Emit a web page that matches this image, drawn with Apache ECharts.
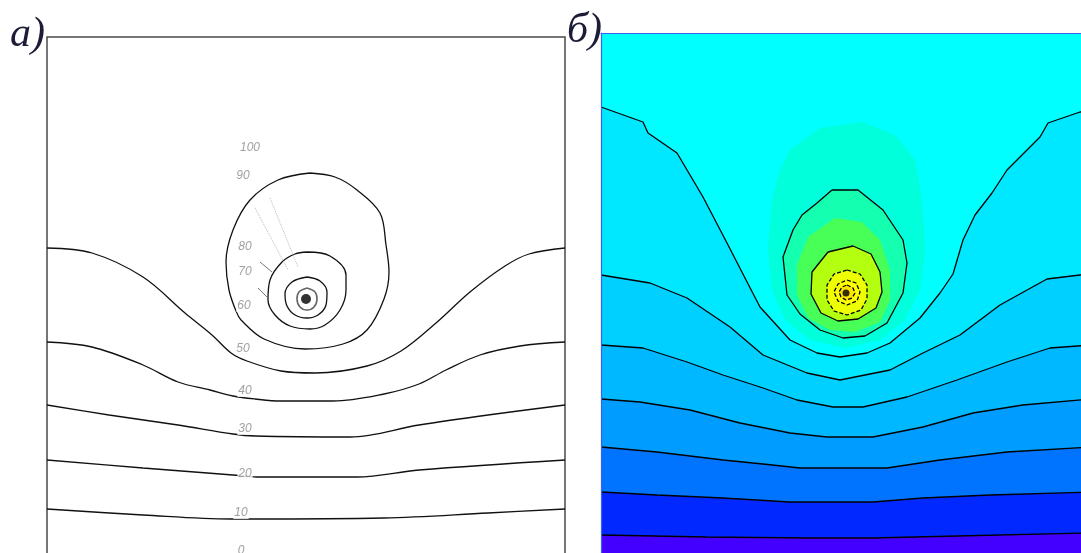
<!DOCTYPE html>
<html><head><meta charset="utf-8">
<script src="https://cdn.jsdelivr.net/npm/echarts/dist/echarts.min.js"></script>
<style>html,body{margin:0;padding:0;background:#fff}#c{width:1081px;height:553px}</style>
</head><body><div id="c"></div>
<script>
// ===== Panel а): isolines (x = lateral offset from the source, d = depth), reference units
const aLevels   = ['0','10','20','30','40','50','60','70','80','90','100'];
const aLabelPos = [[-65,514],[-65,476],[-61,437],[-61,392],[-61,354],[-63,312],[-62,269],[-61,235],[-61,210],[-63,139],[-56,111]];
const aIso10 = [[-259,472],[-163,478],[-75,482],[-56,482],[78,481],[182,476],[259,472]];
const aIso20 = [[-259,423],[-163,431],[-73,438],[-49,440],[51,440],[113,433],[259,423]];
const aIso30 = [[-259,368],[-197,378],[-128,388],[-73,397],[-51,399],[44,400],[113,388],[182,378],[259,368]];
const aIso40 = [[-259,305],[-214,310],[-163,328],[-128,345],[-96,353],[-73,359],[-51,362],[-25,364],[27,364],[78,357],[113,347],[140,333],[174,318],[214,309],[259,305]];
const aIso50 = [[-259,211],[-214,216],[-163,240],[-121,276],[-94,298],[-75,316],[-59,324],[-25,334],[9,336],[61,329],[95,314],[130,286],[164,255],[199,229],[223,217],[259,211]];
const aIso60 = [[4,136],[29,140],[51,153],[74,176],[80,208],[83,235],[78,262],[61,293],[37,307],[-1,312],[-42,302],[-65,283],[-70,274],[-77,253],[-80,225],[-73,193],[-56,163],[-28,143],[4,136]];
const aIso70 = [[1,215],[24,219],[40,238],[40,253],[34,273],[19,288],[4,292],[-16,289],[-31,278],[-38,263],[-36,243],[-24,225],[-11,217],[1,215]];
const aIso80 = [[1,240],[14,244],[21,255],[20,268],[12,278],[1,281],[-11,278],[-19,269],[-21,257],[-14,245],[1,240]];
const aIso90 = [[1,251],[9,255],[11,262],[8,270],[1,273],[-6,270],[-9,262],[-7,255],[1,251]];
const aSource = [0,262];
const aLeaders = [[[-51,171],[-18,233]],[[-36,161],[-8,230]]];
const aTicks   = [[[-46,225],[-34,235]],[[-48,251],[-38,261]]];

// ===== Panel б): filled isolines
const bIso1 = [[-245,74],[-203,89],[-198,100],[-169,120],[-143,164],[-119,210],[-101,245],[-86,274],[-56,307],[-29,320],[-6,324],[21,320],[44,310],[74,285],[94,260],[107,241],[117,207],[129,182],[146,160],[161,137],[194,104],[202,90],[234,79],[245,77]];
const bIso2 = [[-245,242],[-196,250],[-159,265],[-116,294],[-83,322],[-39,340],[-6,347],[44,337],[77,320],[114,302],[154,272],[201,246],[234,242],[245,241]];
const bIso3 = [[-245,312],[-203,315],[-159,329],[-123,342],[-83,355],[-49,367],[-13,374],[17,374],[61,364],[111,347],[161,329],[204,315],[245,312]];
const bIso4 = [[-245,366],[-206,369],[-156,377],[-106,390],[-56,400],[-19,404],[27,404],[77,394],[127,380],[177,372],[245,366]];
const bIso5 = [[-245,414],[-189,419],[-123,427],[-83,431],[-46,435],[41,435],[94,427],[161,419],[245,414]];
const bIso6 = [[-245,459],[-189,462],[-123,465],[-56,469],[27,469],[77,465],[144,462],[245,459]];
const bIso7 = [[-245,502],[-139,504],[-39,505],[27,505],[111,503],[245,500]];
const bHalo = [[-56,117],[-26,95],[16,89],[49,102],[69,127],[76,167],[79,217],[74,257],[59,287],[34,307],[0,315],[-36,307],[-61,287],[-74,257],[-78,217],[-74,167],[-66,137]];
const bRing1 = [[-14,157],[12,157],[37,177],[57,207],[61,230],[57,260],[41,290],[19,303],[-3,305],[-26,297],[-46,281],[-59,262],[-63,224],[-53,197],[-44,182],[-29,170],[-14,157]];
const bGreen = [[-11,185],[16,189],[34,207],[44,237],[44,267],[34,289],[9,299],[-16,297],[-38,285],[-49,262],[-49,232],[-38,204]];
const bRing2 = [[-18,219],[7,213],[25,221],[34,239],[36,259],[30,275],[12,286],[-8,288],[-25,280],[-35,261],[-34,239],[-18,219]];
const bRing3 = [[1,237],[14,241],[21,252],[21,266],[15,277],[1,282],[-12,278],[-19,267],[-19,252],[-12,241],[1,237]];
const bRing4 = [[1,247],[10,250],[14,259],[11,268],[1,272],[-8,268],[-12,259],[-8,251],[1,247]];
const bRing5 = [[1,252],[7,255],[9,260],[6,265],[0,267],[-5,264],[-7,259],[-4,254],[1,252]];
const bSource = [0,260];

// ---- axis extents
const A_X = 259, A_D = 518;
const B_X = 245, B_D = 522;

// ---- styles
const bandColors = ['#00e8ff','#00d0ff','#00b8ff','#009cff','#0074ff','#0028ff','#4400ff'];
const blobColors = {halo:'#00ffda', ring1:'#14ffb0', green:'#48ff58', ring2:'#b4ff10', ring3:'#eeff00', ring4:'#ffff00', ring5:'#ffe400'};

function below(line){ return line.concat([[B_X, B_D],[-B_X, B_D]]); }
const bShapes = [
  {pts: bHalo, fill: blobColors.halo},
  {pts: below(bIso1), fill: bandColors[0]},
  {pts: below(bIso2), fill: bandColors[1]},
  {pts: below(bIso3), fill: bandColors[2]},
  {pts: below(bIso4), fill: bandColors[3]},
  {pts: below(bIso5), fill: bandColors[4]},
  {pts: below(bIso6), fill: bandColors[5]},
  {pts: below(bIso7), fill: bandColors[6]},
  {pts: bRing1, fill: blobColors.ring1},
  {pts: bGreen, fill: blobColors.green},
  {pts: bRing2, fill: blobColors.ring2},
  {pts: bRing3, fill: blobColors.ring3},
  {pts: bRing4, fill: blobColors.ring4},
  {pts: bRing5, fill: blobColors.ring5}
];

const series = [];
function line(g, pts, style, smooth){
  series.push({type:'line', xAxisIndex:g, yAxisIndex:g, data:pts, symbol:'none', showSymbol:false,
    smooth: smooth||false, lineStyle: style, z:3, silent:true, animation:false});
}
// panel а
const blk = {color:'#111', width:1.3};
[aIso10,aIso20,aIso30,aIso40,aIso50,aIso60,aIso70,aIso80].forEach(p => line(0,p,blk,0.35));
line(0, aIso90, {color:'#666', width:1.6}, 0.35);
aLeaders.forEach(p => line(0,p,{color:'#bbb', width:1, type:'dotted'}));
aTicks.forEach(p => line(0,p,{color:'#777', width:1}));
series.push({type:'scatter', xAxisIndex:0, yAxisIndex:0, data:[aSource], symbol:'circle', symbolSize:10,
  itemStyle:{color:'#000'}, z:4, silent:true, animation:false});
series.push({type:'scatter', xAxisIndex:0, yAxisIndex:0, symbolSize:0, z:6, silent:true, animation:false,
  data: aLabelPos.map((p,i)=>[p[0],p[1],aLevels[i]]),
  label:{show:true, position:'inside', formatter:p=>p.data[2], color:'#8a8a8a', fontStyle:'italic',
    fontSize:12, fontFamily:'"Liberation Sans Narrow","Liberation Sans",sans-serif', backgroundColor:'#fff', padding:[0,1]}});
// panel б fills
series.push({type:'custom', xAxisIndex:1, yAxisIndex:1, data: bShapes.map(()=>[0,0]), z:1, silent:true, animation:false,
  renderItem:(params, api)=>{ const s=bShapes[params.dataIndex];
    return {type:'polygon', shape:{points:s.pts.map(p=>api.coord(p))}, style:{fill:s.fill}}; }});
const bl = {color:'#000', width:1.3};
[bIso1,bIso2,bIso3,bIso4,bIso5,bIso6,bIso7,bRing1,bRing2].forEach(p => line(1,p,bl,false));
[bRing3,bRing4,bRing5].forEach(p => line(1,p,{color:'#000', width:1.3, type:[4,2]},false));
series.push({type:'scatter', xAxisIndex:1, yAxisIndex:1, data:[bSource], symbol:'circle', symbolSize:7,
  itemStyle:{color:'#000'}, z:4, silent:true, animation:false});

const hidden = {show:false};
const chart = echarts.init(document.getElementById('c'), null, {renderer:'canvas'});
chart.setOption({
  animation:false,
  backgroundColor:'#fff',
  grid:[
    {left:47, top:37, width:518, height:518, outerBoundsMode:'none', containLabel:false, show:true, borderColor:'#4a4a4a', borderWidth:1.5, backgroundColor:'#fff'},
    {left:601, top:33, width:490, height:522, outerBoundsMode:'none', containLabel:false, show:true, borderWidth:0, backgroundColor:'#00ffff'}
  ],
  xAxis:[
    {gridIndex:0, type:'value', min:-A_X, max:A_X, show:false},
    {gridIndex:1, type:'value', min:-B_X, max:B_X, position:'top', z:10,
      axisLine:{show:true, onZero:false, lineStyle:{color:'#3b62e6', width:1.2}}, axisTick:hidden, axisLabel:hidden, splitLine:hidden}
  ],
  yAxis:[
    {gridIndex:0, type:'value', min:0, max:A_D, inverse:true, show:false},
    {gridIndex:1, type:'value', min:0, max:B_D, inverse:true, position:'left', z:10,
      axisLine:{show:true, onZero:false, lineStyle:{color:'#3b62e6', width:1.2}}, axisTick:hidden, axisLabel:hidden, splitLine:hidden}
  ],
  graphic:[
    {type:'text', left:10, top:14, z:20, style:{text:'а)', font:'italic 42px "Liberation Serif", serif', fill:'#1c1c38'}},
    {type:'text', left:567, top:10, z:20, style:{text:'б)', font:'italic 42px "Liberation Serif", serif', fill:'#1c1c38'}}
  ],
  series: series
});
</script></body></html>
